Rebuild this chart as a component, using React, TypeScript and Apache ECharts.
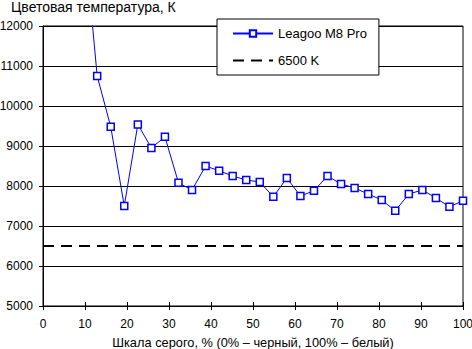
import React, { useEffect, useRef } from "react";
import * as echarts from "echarts";

const title = "Цветовая температура, К";
const xAxisName = "Шкала серого, % (0% – черный, 100% – белый)";
const seriesName = "Leagoo M8 Pro";
const refName = "6500 K";
const grayPercent = [9.68, 12.9, 16.13, 19.35, 22.58, 25.81, 29.03, 32.26, 35.48, 38.71, 41.94, 45.16, 48.39, 51.61, 54.84, 58.06, 61.29, 64.52, 67.74, 70.97, 74.19, 77.42, 80.65, 83.87, 87.1, 90.32, 93.55, 96.77, 100];
const colorTemp = [14400, 10750, 9480, 7500, 9540, 8950, 9230, 8080, 7900, 8500, 8380, 8250, 8150, 8100, 7730, 8200, 7750, 7880, 8250, 8050, 7950, 7800, 7650, 7380, 7800, 7900, 7700, 7480, 7630];
const refX = [0, 100];
const refY = [6500, 6500];

const FONT = "'Liberation Sans', Arial, sans-serif";

export default function App() {
  const ref = useRef<HTMLDivElement>(null);
  useEffect(() => {
    document.body.style.margin = "0";
    const chart = echarts.init(ref.current!, undefined, { renderer: "svg" });
    const baseX = { type: "value", min: 0, max: 100, interval: 10 };
    const baseY = { type: "value", min: 5000, max: 12000, interval: 1000 };
    chart.setOption({
      animation: false,
      backgroundColor: "#ffffff",
      textStyle: { fontFamily: FONT, color: "#000" },
      title: {
        text: title,
        left: 11,
        top: 0,
        padding: 0,
        textStyle: { fontFamily: FONT, fontSize: 14, fontWeight: "normal", color: "#000" },
      },
      grid: {
        left: 43,
        right: 9,
        top: 26,
        bottom: 43,
        containLabel: false,
        outerBoundsMode: "none",
        show: true,
        borderColor: "#000",
        borderWidth: 1,
        backgroundColor: "transparent",
      },
      legend: {
        orient: "vertical",
        left: 217,
        top: 19,
        padding: [8, 12, 8, 15],
        itemGap: 14,
        itemWidth: 40,
        itemHeight: 8,
        backgroundColor: "#fff",
        borderColor: "#000",
        borderWidth: 1,
        borderRadius: 0,
        textStyle: { fontFamily: FONT, fontSize: 13, color: "#000" },
        data: [
          { name: seriesName },
          { name: refName },
        ],
      },
      xAxis: [
        {
          ...baseX,
          name: xAxisName,
          nameLocation: "middle",
          nameGap: 30,
          nameTextStyle: { fontFamily: FONT, fontSize: 12.8, color: "#000" },
          axisLine: { show: true, lineStyle: { color: "#000", width: 1 } },
          axisTick: { show: true, length: 4, lineStyle: { color: "#000" } },
          axisLabel: { margin: 12, fontFamily: FONT, fontSize: 12, color: "#000" },
          splitLine: { show: false },
        },
        {
          ...baseX,
          position: "bottom",
          axisLine: { show: false },
          axisTick: { show: true, inside: true, length: 4, lineStyle: { color: "#000" } },
          axisLabel: { show: false },
          splitLine: { show: false },
        },
      ],
      yAxis: [
        {
          ...baseY,
          axisLine: { show: true, lineStyle: { color: "#000", width: 1 } },
          axisTick: { show: true, length: 4, lineStyle: { color: "#000" } },
          axisLabel: {
            margin: 10,
            fontFamily: FONT,
            fontSize: 12,
            color: "#000",
            formatter: (v: number) => String(v),
          },
          splitLine: { show: true, lineStyle: { color: "#000", width: 1 } },
        },
        {
          ...baseY,
          position: "left",
          axisLine: { show: false },
          axisTick: { show: true, inside: true, length: 4, lineStyle: { color: "#000" } },
          axisLabel: { show: false },
          splitLine: { show: false },
        },
      ],
      series: [
        {
          name: refName,
          type: "line",
          data: refX.map((x, i) => [x, refY[i]]),
          symbol: "none",
          lineStyle: { color: "#000", width: 2, type: [11, 7] },
          itemStyle: { color: "transparent" },
          z: 3,
        },
        {
          name: seriesName,
          type: "line",
          data: grayPercent.map((x, i) => [x, colorTemp[i]]),
          symbol: "rect",
          symbolSize: 7,
          showAllSymbol: true,
          lineStyle: { color: "#0000ff", width: 1 },
          itemStyle: { color: "#ffffff", borderColor: "#0000ff", borderWidth: 1.5 },
          z: 4,
        },
      ],
    });
    return () => chart.dispose();
  }, []);
  return <div ref={ref} style={{ position: "absolute", left: 0, top: 0, width: 472, height: 349 }} />;
}
